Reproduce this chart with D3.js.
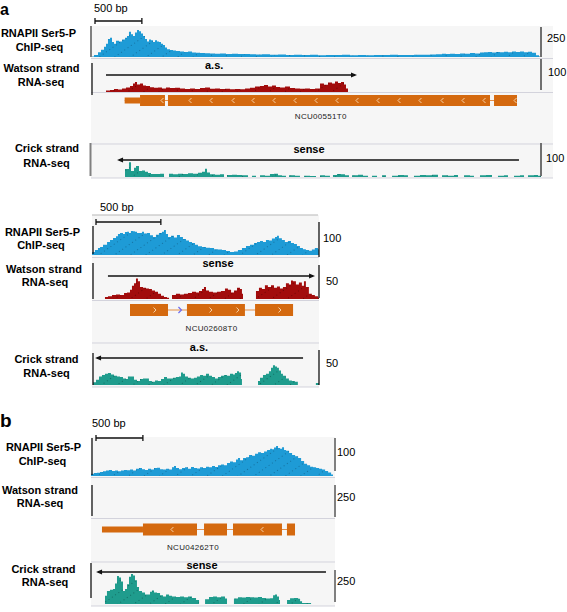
<!DOCTYPE html>
<html><head><meta charset="utf-8">
<script src="https://cdn.jsdelivr.net/npm/d3@7"></script>
<style>
body{margin:0;background:#fff}
svg{display:block}
text{font-family:"Liberation Sans",Arial,Helvetica,sans-serif}
</style>
</head><body>
<svg id="c" width="567" height="612"></svg>
<script>
// ===================== DATA =====================
// Panel a (top): NCU00551, region ~4800 bp
const chipA1 = [[0,5],[32,17],[75,40],[107,60],[139,85],[160,110],[181,150],[203,160],[224,125],[245,110],[267,135],[299,130],[331,145],[363,160],[384,175],[405,210],[427,190],[448,175],[469,205],[491,225],[512,215],[533,195],[555,175],[576,150],[597,130],[619,145],[640,140],[661,125],[683,140],[704,130],[725,125],[747,110],[768,100],[789,80],[811,65],[843,58],[875,55],[907,50],[949,45],[992,42],[1035,45],[1077,38],[1120,36],[1163,34],[1216,32],[1269,30],[1323,28],[1376,30],[1440,26],[1504,28],[1568,24],[1632,25],[1696,22],[1760,20],[1824,22],[1909,18],[1995,20],[2080,17],[2165,18],[2251,16],[2336,18],[2421,15],[2507,17],[2592,16],[2677,18],[2763,15],[2848,16],[2933,15],[3019,17],[3104,16],[3189,18],[3275,17],[3360,16],[3445,19],[3531,18],[3616,20],[3680,22],[3744,28],[3787,24],[3829,27],[3883,25],[3936,30],[3989,28],[4043,33],[4096,30],[4149,38],[4192,40],[4235,42],[4277,38],[4320,42],[4363,40],[4405,44],[4448,40],[4491,45],[4533,42],[4576,46],[4619,40],[4661,44],[4704,35],[4747,15],[4779,5],[4800,0]];
const watsonA1 = [[160,5],[203,7],[245,10],[288,8],[331,12],[373,15],[416,20],[448,28],[469,33],[491,25],[523,28],[555,22],[587,20],[629,16],[672,14],[715,15],[757,12],[800,15],[843,13],[896,14],[949,12],[1003,10],[1056,12],[1109,10],[1163,13],[1216,15],[1269,11],[1323,12],[1376,10],[1429,11],[1483,9],[1536,10],[1589,9],[1643,12],[1696,14],[1749,18],[1803,20],[1845,23],[1888,18],[1931,22],[1973,17],[2016,15],[2069,18],[2123,13],[2176,12],[2229,11],[2283,12],[2336,10],[2389,12],[2443,28],[2485,24],[2528,32],[2571,28],[2603,35],[2635,30],[2667,33],[2699,25],[2720,12],[2741,0]];
const crickA1 = [[352,0],[363,24],[405,45],[427,18],[459,28],[480,33],[512,18],[544,20],[576,16],[608,12],[640,9],[693,9],[736,10],[779,0],[832,10],[875,8],[928,10],[981,9],[1035,11],[1088,10],[1141,13],[1184,16],[1216,25],[1237,14],[1269,8],[1323,7],[1376,8],[1419,0],[1451,6],[1504,7],[1557,6],[1611,5],[1675,0],[1717,4],[1760,0],[1803,5],[1856,4],[1909,9],[1952,10],[1995,5],[2037,4],[2080,0],[2112,5],[2176,4],[2229,0],[2272,4],[2336,3],[2400,0],[2443,5],[2496,4],[2549,0],[2581,6],[2624,9],[2667,8],[2709,5],[2752,0],[2784,5],[2848,7],[2901,4],[2955,0],[2997,4],[3051,0],[3104,5],[3147,0],[3211,4],[3275,6],[3339,5],[3381,0],[3445,4],[3509,6],[3573,5],[3637,7],[3701,0],[3744,5],[3808,4],[3872,6],[3915,0],[3979,5],[4043,4],[4085,0],[4149,5],[4213,6],[4277,0],[4341,4],[4405,5],[4448,0],[4512,4],[4576,5],[4619,0],[4661,5],[4725,6],[4768,4],[4800,0]];
const exonsA1 = [[359,523,0],[523,789,1],[821,4256,1],[4299,4544,1]];
const chevronsA1 = [757,1056,1280,1515,1728,1952,2176,2400,2624,2837,3061,3285,3509,3744,3968,4192,4523];

// Panel a (bottom): NCU02608, region ~1750 bp
const chipA2 = [[0,10],[23,17],[46,24],[62,28],[85,35],[116,45],[139,52],[162,59],[185,65],[200,72],[216,76],[239,72],[254,79],[270,80],[285,76],[300,83],[316,82],[331,80],[347,76],[370,76],[385,80],[401,74],[424,76],[447,68],[470,62],[493,70],[516,76],[539,80],[555,86],[570,72],[586,62],[609,66],[632,60],[655,69],[678,62],[701,55],[725,50],[748,45],[771,41],[794,35],[817,30],[848,28],[879,25],[910,24],[941,20],[971,19],[1002,17],[1033,14],[1064,10],[1095,12],[1125,17],[1156,24],[1187,31],[1218,35],[1249,41],[1272,45],[1295,48],[1318,45],[1341,52],[1364,50],[1387,57],[1411,62],[1426,66],[1441,58],[1464,52],[1487,45],[1510,48],[1534,41],[1557,38],[1580,31],[1603,24],[1626,20],[1649,17],[1672,15],[1695,19],[1718,24],[1742,20],[1750,0]];
const watsonA2 = [[92,0],[100,3],[123,4],[154,6],[185,7],[216,6],[247,9],[270,10],[293,14],[308,20],[324,24],[339,31],[354,27],[370,18],[393,17],[416,16],[439,15],[462,13],[486,11],[509,8],[532,5],[555,3],[578,2],[594,0],[617,6],[647,8],[678,7],[709,8],[740,9],[771,11],[802,10],[825,12],[848,15],[863,18],[879,13],[902,11],[933,10],[964,11],[994,12],[1025,16],[1048,14],[1072,10],[1095,13],[1118,17],[1141,15],[1156,8],[1164,0],[1264,12],[1287,17],[1310,15],[1333,21],[1356,18],[1380,21],[1403,17],[1426,19],[1449,16],[1472,18],[1495,24],[1518,22],[1534,28],[1549,27],[1572,22],[1595,25],[1618,20],[1634,27],[1649,18],[1672,8],[1695,6],[1718,4],[1742,2],[1750,0]];
const crickA2 = [[8,4],[31,8],[54,13],[77,15],[100,17],[123,18],[146,16],[170,14],[193,13],[216,12],[239,10],[262,9],[277,13],[300,13],[324,8],[347,6],[370,9],[393,10],[416,10],[439,6],[462,5],[486,7],[509,6],[532,9],[555,12],[578,10],[601,10],[624,11],[647,12],[671,13],[686,19],[701,17],[717,13],[740,11],[763,10],[786,11],[809,13],[833,15],[856,14],[879,17],[902,14],[925,12],[948,10],[971,12],[994,14],[1018,15],[1041,14],[1064,17],[1087,16],[1102,18],[1118,21],[1133,19],[1149,9],[1156,0],[1280,6],[1295,11],[1318,15],[1341,17],[1364,21],[1380,26],[1395,30],[1411,28],[1426,26],[1441,22],[1457,17],[1472,14],[1495,10],[1518,7],[1541,6],[1564,5],[1587,0],[1726,3],[1750,0]];
const exonsA2 = [[293,586,1],[732,1179,1],[1257,1550,1]];
const chevronsA2 = [486,917,1125,1449];
const blueMarkA2 = [678];

// Panel b: NCU04262, region ~2580 bp
const chipB = [[0,6],[32,8],[64,9],[96,11],[128,13],[160,15],[192,17],[224,14],[256,15],[288,13],[320,15],[352,17],[384,16],[416,18],[448,15],[480,20],[512,22],[544,19],[576,17],[608,20],[640,18],[672,22],[704,23],[736,19],[768,18],[800,20],[832,18],[864,24],[885,28],[906,22],[938,19],[970,22],[1002,24],[1034,20],[1066,25],[1098,22],[1130,21],[1162,24],[1194,22],[1226,26],[1258,24],[1290,28],[1322,25],[1354,30],[1386,32],[1418,30],[1450,36],[1482,40],[1514,38],[1546,46],[1567,50],[1589,44],[1621,50],[1653,52],[1685,58],[1717,56],[1749,62],[1781,66],[1813,64],[1845,68],[1877,72],[1909,76],[1930,74],[1951,79],[1973,83],[1994,78],[2016,76],[2037,80],[2058,72],[2080,70],[2112,64],[2144,58],[2176,55],[2208,50],[2240,42],[2272,34],[2304,30],[2336,26],[2368,24],[2400,22],[2432,20],[2464,18],[2496,14],[2528,10],[2560,4],[2580,0]];
const watsonB = [];
const crickB = [[138,0],[149,60],[170,95],[202,105],[234,110],[256,150],[277,205],[298,195],[320,165],[341,95],[362,110],[384,145],[405,200],[426,220],[448,210],[469,175],[490,125],[512,95],[544,85],[576,70],[608,70],[629,90],[650,100],[672,85],[704,80],[736,65],[768,55],[800,70],[832,60],[864,55],[906,52],[949,55],[992,50],[1034,55],[1077,45],[1120,30],[1152,0],[1216,35],[1258,52],[1301,55],[1343,50],[1386,55],[1429,40],[1450,0],[1524,40],[1567,50],[1610,48],[1653,52],[1696,50],[1738,48],[1781,52],[1823,45],[1866,40],[1909,42],[1941,65],[1962,70],[1983,55],[2004,30],[2015,0],[2090,30],[2122,42],[2165,45],[2208,38],[2229,20],[2250,8],[2335,8],[2346,0]];
const exonsB = [[117,554,0],[554,1130,1],[1205,1450,1],[1514,2036,1],[2089,2175,1]];
const chevronsB = [863,1823];

// Labels / ticks
const trackLabels = [["RNAPII Ser5-P","ChIP-seq"],["Watson strand","RNA-seq"],["Crick strand","RNA-seq"]];
const scaleMaxA1 = [250,100,100];
const scaleMaxA2 = [100,50,50];
const scaleMaxB = [100,250,250];
const geneNames = ["NCU00551T0","NCU02608T0","NCU04262T0"];
const arrowTexts = ["a.s.","sense","sense","a.s.","sense"];
const scaleBarText = "500 bp";
const scaleBarBp = 500;

// ===================== DRAW =====================
const svg = d3.select('#c');
const defs = svg.append('defs');
const COL = {blue:'#1e9bd6', red:'#a20c0c', teal:'#1f9c8d', orange:'#d4690f'};
function makePat(id, color, dot){
  const p = defs.append('pattern').attr('id',id).attr('width',4).attr('height',9)
    .attr('patternUnits','userSpaceOnUse').attr('patternTransform','rotate(-35)');
  p.append('rect').attr('width',4).attr('height',9).attr('fill',color);
  p.append('rect').attr('x',1).attr('y',4).attr('width',1).attr('height',1).attr('fill',dot).attr('opacity',0.55);
}
makePat('pBlue',COL.blue,'#0a4d70');
makePat('pRed',COL.red,'#400000');
makePat('pTeal',COL.teal,'#08453e');

function txt(x,y,s,opt={}){
  return svg.append('text').attr('x',x).attr('y',y).text(s)
    .attr('font-size',opt.size||11).attr('font-weight',opt.weight||'normal')
    .attr('text-anchor',opt.anchor||'start').attr('fill',opt.fill||'#000')
    .attr('letter-spacing',opt.ls||0);
}
function vline(x,y1,y2,color,w){
  svg.append('line').attr('x1',x).attr('x2',x).attr('y1',y1).attr('y2',y2).attr('stroke',color).attr('stroke-width',w);
}
function hline(x1,x2,y,color,w){
  svg.append('line').attr('x1',x1).attr('x2',x2).attr('y1',y).attr('y2',y).attr('stroke',color).attr('stroke-width',w);
}
function signal(x,data,max,base,hpx,fill){
  const y = d3.scaleLinear().domain([0,max]).range([base,base-hpx]);
  if(!data.length) return y;
  const area = d3.area().curve(d3.curveStepAfter).x(d=>x(d[0])).y0(base).y1(d=>y(Math.max(0,d[1])));
  svg.append('path').datum(data).attr('d',area).attr('fill',fill);
  return y;
}
function arrow(x,from,to,y,dir){
  const a = x(from), b = x(to);
  hline(a,b,y,'#111',1.3);
  const tip = dir>0 ? b+2 : a-2;
  const back = dir>0 ? tip-6 : tip+6;
  svg.append('path').attr('d',`M${tip},${y} L${back},${y-2.5} L${back},${y+2.5} Z`).attr('fill','#111');
}
function gene(x,exons,yMid,thickH,thinH,chev,dir,name,nameY,nameX){
  const s = exons[0][0], e = exons[exons.length-1][1];
  hline(x(s),x(e),yMid,'#e5904a',1);
  exons.forEach(ex=>{
    const h = ex[2]?thickH:thinH;
    svg.append('rect').attr('x',x(ex[0])).attr('y',yMid-h/2).attr('width',x(ex[1])-x(ex[0])).attr('height',h)
      .attr('fill',COL.orange);
  });
  chev.forEach(c=>{
    const cx = x(c);
    const d = dir<0 ? `M${cx+1.5},${yMid-2.5} L${cx-1},${yMid} L${cx+1.5},${yMid+2.5}`
                    : `M${cx-1.5},${yMid-2.5} L${cx+1},${yMid} L${cx-1.5},${yMid+2.5}`;
    svg.append('path').attr('d',d).attr('fill','none').attr('stroke','#f6d2a8').attr('stroke-width',1);
  });
  txt(nameX!==undefined?nameX:(x(s)+x(e))/2,nameY,name,{size:8,anchor:'middle',fill:'#222',ls:0.3});
}
function scaleBar(x,x0,y,tx,ty){
  const a = x0, b = x0 + (x(scaleBarBp)-x(0));
  hline(a,b,y,'#111',1.3);
  vline(a,y-3,y+3,'#111',1.3);
  vline(b,y-3,y+3,'#111',1.3);
  txt(tx,ty,scaleBarText,{size:11});
}
function sideLabels(rows){
  rows.forEach((r,i)=>{
    txt(r[0],r[1],trackLabels[i][0],{weight:'bold',anchor:'middle'});
    txt(r[2],r[3],trackLabels[i][1],{weight:'bold',anchor:'middle'});
  });
}

// ---------- Panel a (top) ----------
{
  const x = d3.scaleLinear().domain([0,4800]).range([91,541]);
  svg.append('rect').attr('x',91).attr('y',26).attr('width',462).attr('height',152).attr('fill','#f6f6f6');
  [58.5,92.5,144,178].forEach(y=>hline(91,553,y,'#d3d3dc',1));
  txt(0,15,'a',{size:16,weight:'bold'});
  scaleBar(x,95,21,94,12);
  const yC = signal(x,chipA1,scaleMaxA1[0],57,30,'url(#pBlue)');
  signal(x,watsonA1,scaleMaxA1[1],92,30,'url(#pRed)');
  signal(x,crickA1,scaleMaxA1[2],177,33,'url(#pTeal)');
  vline(91,yC.range()[1]-1,yC.range()[0],'#808080',2);
  vline(92,63,95,'#111',1.3);
  vline(90.5,143,176,'#808080',2);
  vline(541,27,57,'#707070',2);
  vline(541,59,90,'#707070',2);
  vline(541,143,176,'#707070',2);
  txt(547,42,String(scaleMaxA1[0]));
  txt(548,76,String(scaleMaxA1[1]));
  txt(546,162,String(scaleMaxA1[2]));
  arrow(x,160,2816,75,1);
  txt(205,69,arrowTexts[0],{weight:'bold'});
  arrow(x,299,4565,160,-1);
  txt(309,153,arrowTexts[1],{weight:'bold',anchor:'middle'});
  gene(x,exonsA1,100.5,11,6,chevronsA1,-1,geneNames[0],119);
  sideLabels([[38.5,37,39.5,51],[41.5,72,41,86],[47,152,46.5,167]]);
}

// ---------- Panel a (bottom) ----------
{
  const x = d3.scaleLinear().domain([0,1750]).range([92,319]);
  svg.append('rect').attr('x',92).attr('y',215).attr('width',227).attr('height',172).attr('fill','#f6f6f6');
  hline(92,318,215,'#b8b8b8',1.2);
  [257.5,300.5,343,387].forEach(y=>hline(92,319,y,'#d3d3dc',1));
  scaleBar(x,96,222,100,211);
  signal(x,chipA2,scaleMaxA2[0],255,29,'url(#pBlue)');
  signal(x,watsonA2,scaleMaxA2[1],299,33,'url(#pRed)');
  signal(x,crickA2,scaleMaxA2[2],385,33,'url(#pTeal)');
  vline(93,226,254,'#111',1.3);
  vline(93,263,299,'#111',1.3);
  vline(93,353,385,'#111',1.3);
  vline(319,222,257,'#111',1.3);
  vline(319,265,298,'#111',1.3);
  vline(319,350,385,'#111',1.3);
  txt(323,242,String(scaleMaxA2[0]));
  txt(326,285,String(scaleMaxA2[1]));
  txt(326,367,String(scaleMaxA2[2]));
  arrow(x,123,1704,276,1);
  txt(218,267,arrowTexts[2],{weight:'bold',anchor:'middle'});
  arrow(x,39,1627,358,-1);
  txt(199,351,arrowTexts[3],{weight:'bold',anchor:'middle'});
  gene(x,exonsA2,310,12,6,chevronsA2,1,geneNames[1],331);
  blueMarkA2.forEach(c=>{
    const cx=x(c), y=310;
    svg.append('path').attr('d',`M${cx-1.5},${y-3} L${cx+1.5},${y} L${cx-1.5},${y+3}`).attr('fill','none').attr('stroke','#6a6af0').attr('stroke-width',1.2);
  });
  sideLabels([[42.5,236,41,249],[44,273,45,286],[46.5,363,46.5,377]]);
}

// ---------- Panel b ----------
{
  const x = d3.scaleLinear().domain([0,2580]).range([91,333]);
  svg.append('rect').attr('x',91).attr('y',437).attr('width',244).attr('height',169).attr('fill','#f6f6f6');
  [477.5,518.5,562,606].forEach(y=>hline(91,335,y,'#d3d3dc',1));
  txt(0,427,'b',{size:19,weight:'bold'});
  scaleBar(x,96,438,92,427);
  signal(x,chipB,scaleMaxB[0],476,36,'url(#pBlue)');
  signal(x,watsonB,scaleMaxB[1],518,34,'url(#pRed)');
  signal(x,crickB,scaleMaxB[2],604,34,'url(#pTeal)');
  vline(92,438,475,'#111',1.3);
  vline(92,485,516,'#111',1.3);
  vline(91,563,598,'#111',1.3);
  vline(335,438,471,'#808080',2);
  vline(335,485,517,'#808080',2);
  vline(335,570,602,'#808080',2);
  txt(337,456,String(scaleMaxB[0]));
  txt(337,501,String(scaleMaxB[1]));
  txt(337,585,String(scaleMaxB[2]));
  arrow(x,75,2505,572,-1);
  txt(202,569,arrowTexts[4],{weight:'bold',anchor:'middle'});
  gene(x,exonsB,529.5,12,6,chevronsB,-1,geneNames[2],550,193);
  sideLabels([[43.5,451,42.5,465],[40,494,40,507],[43.5,573,45,586]]);
}
</script>
</body></html>
